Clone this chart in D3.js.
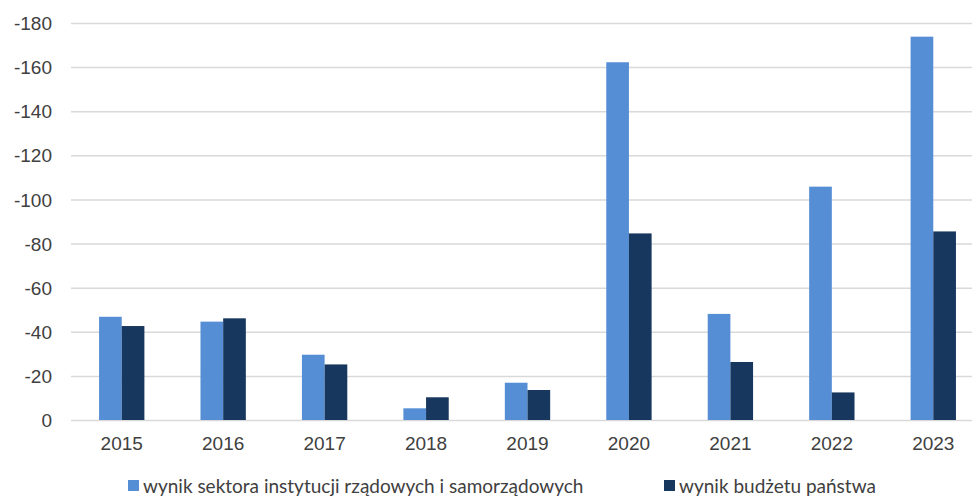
<!DOCTYPE html>
<html>
<head>
<meta charset="utf-8">
<script src="https://cdn.jsdelivr.net/npm/d3@7"></script>
<style>
  body { margin: 0; background: #fff; }
  svg { display: block; font-family: Lato, "Open Sans", sans-serif; }
  .axis text { fill: #404040; font-size: 19px; }
  .axis path, .axis line { display: none; }
  .grid line { stroke: #d9d9d9; stroke-width: 1.5; }
  .grid path { display: none; }
  .legend text { fill: #404040; font-size: 19px; }
</style>
</head>
<body>
<div id="chart"></div>
<script>
// data
var years = ["2015", "2016", "2017", "2018", "2019", "2020", "2021", "2022", "2023"];
var sektor = [-46.8, -44.6, -29.6, -5.3, -16.9, -162.2, -48.1, -105.8, -173.8];
var budzet = [-42.6, -46.1, -25.2, -10.3, -13.6, -84.6, -26.3, -12.5, -85.5];
var seriesNames = ["wynik sektora instytucji rządowych i samorządowych", "wynik budżetu państwa"];
var colors = ["#558ed5", "#17375e"];
var yTicks = [0, -20, -40, -60, -80, -100, -120, -140, -160, -180];

// 1: dimensions
var margin = {top: 23, right: 0, bottom: 79, left: 71};
var width = 913,
    height = 499 - margin.top - margin.bottom;

var svg = d3.select("#chart").append("svg")
    .attr("width", 972)
    .attr("height", 499)
  .append("g")
    .attr("transform", "translate(" + margin.left + "," + margin.top + ")");

// 2: scales
var x = d3.scaleBand()
    .domain(years)
    .range([0, width])
    .paddingInner(0.553)
    .paddingOuter(0.2765);
var xs = d3.scaleBand()
    .domain([0, 1])
    .range([0, x.bandwidth()]);
var y = d3.scaleLinear()
    .domain([0, -180])
    .range([height, 0]);

// 3: grid
svg.append("g")
    .attr("class", "grid")
    .call(d3.axisLeft(y).tickValues(yTicks).tickSize(-width).tickFormat(""));

// 4: axes
svg.append("g")
    .attr("class", "axis axis--y")
    .call(d3.axisLeft(y).tickValues(yTicks).tickSize(0).tickPadding(19)
      .tickFormat(function(d) { return String(d); }))
  .selectAll("text")
    .attr("dy", "0.35em");

svg.append("g")
    .attr("class", "axis axis--x")
    .attr("transform", "translate(0," + height + ")")
    .call(d3.axisBottom(x).tickSize(0).tickPadding(17));

// 5: bars
var rows = years.map(function(yr, i) { return {year: yr, vals: [sektor[i], budzet[i]]}; });

var groups = svg.selectAll(".yr")
    .data(rows)
  .enter().append("g")
    .attr("transform", function(d) { return "translate(" + x(d.year) + ",0)"; });

groups.selectAll("rect")
    .data(function(d) { return d.vals.map(function(v, k) { return {k: k, v: v}; }); })
  .enter().append("rect")
    .attr("x", function(d) { return xs(d.k); })
    .attr("width", xs.bandwidth())
    .attr("y", function(d) { return y(d.v); })
    .attr("height", function(d) { return y(0) - y(d.v); })
    .attr("fill", function(d) { return colors[d.k]; });

// 6: legend (nudged up a little so descenders stay inside the frame)
var legendX = [57, 593];
var legend = svg.append("g")
    .attr("class", "legend")
    .attr("transform", "translate(0," + (height + 66) + ")");

var item = legend.selectAll("g")
    .data(seriesNames)
  .enter().append("g")
    .attr("transform", function(d, i) { return "translate(" + legendX[i] + ",0)"; });

item.append("rect")
    .attr("x", 0).attr("y", -6)
    .attr("width", 11).attr("height", 11)
    .attr("fill", function(d, i) { return colors[i]; });

item.append("text")
    .attr("x", 15)
    .attr("dy", "0.35em")
    .text(function(d) { return d; });
</script>
</body>
</html>
